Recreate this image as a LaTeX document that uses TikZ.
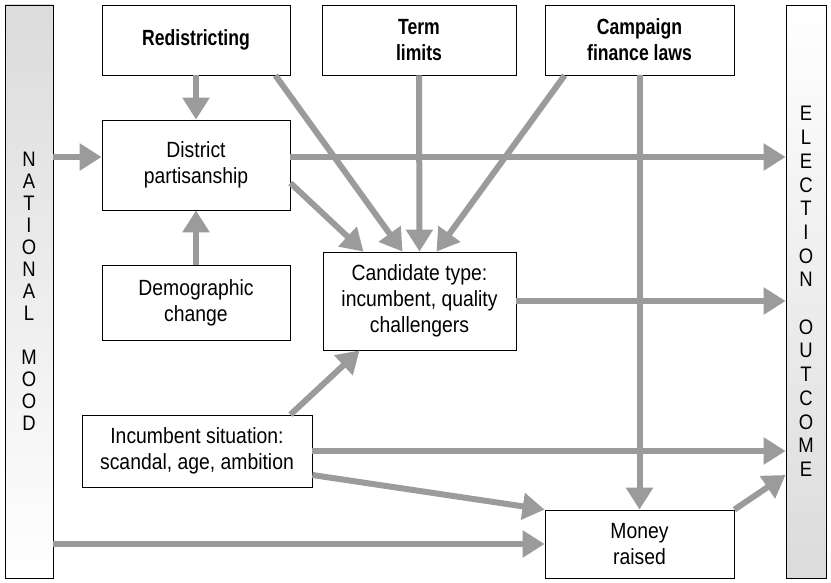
\documentclass[tikz,border=0pt]{standalone}
\usepackage{fontspec}
\setmainfont{Liberation Sans}[FakeStretch=0.88]
\newfontfamily\headfont{Liberation Sans}[FakeStretch=0.80]
\usetikzlibrary{arrows.meta}
\definecolor{arrgray}{RGB}{155,155,155}
\begin{document}
\begin{tikzpicture}[
        x=1pt, y=-1pt,
        box/.style={draw, thick, rectangle, align=center, inner sep=0pt, font=\fontsize{22}{26}\selectfont},
        topbox/.style={box, font=\fontsize{22}{26}\selectfont\headfont\bfseries},
        bar/.style={draw, thick, rectangle, minimum width=#1, minimum height=573pt, inner sep=0pt, align=center},
        arr/.style={draw=arrgray, line width=6pt, -{Triangle[length=22pt,width=26pt]}},
    ]
    \useasboundingbox (0,0) rectangle (831,583);
    \node[bar=48pt, top color=gray!28, bottom color=white, font=\fontsize{21}{22}\selectfont](mood) at (29,291.5)
        {N\\A\\T\\I\\O\\N\\A\\L\\~\\M\\O\\O\\D};
    \node[bar=40pt, top color=white, bottom color=gray!28, font=\fontsize{21}{23.7}\selectfont](elec) at (806,291.5)
        {E\\L\\E\\C\\T\\I\\O\\N\\~\\O\\U\\T\\C\\O\\M\\E};
    \node[topbox, minimum width=188pt, minimum height=70pt](redis) at (196,40) {Redistricting};
    \node[topbox, minimum width=194pt, minimum height=70pt](term) at (419,40) {Term\\limits};
    \node[topbox, minimum width=189pt, minimum height=70pt](camp) at (639.5,40) {Campaign\\finance laws};
    \node[box, minimum width=188pt, minimum height=90pt](dist) at (196,165) {District\\partisanship};
    \node[box, minimum width=188pt, minimum height=75pt](demo) at (196,302.5) {Demographic\\change};
    \node[box, minimum width=193pt, minimum height=98pt](cand) at (419.5,301) {Candidate type:\\incumbent, quality\\challengers};
    \node[box, minimum width=230pt, minimum height=72pt](inc) at (197,451) {Incumbent situation:\\scandal, age, ambition};
    \node[box, minimum width=189pt, minimum height=68pt](money) at (639.5,544) {Money\\raised};

    \coordinate (d1) at ([yshift=8pt]dist.west);
    \coordinate (d2) at ([yshift=8pt]dist.east);
    \draw[arr] (mood.east |- d1) -- (d1);
    \draw[arr] (mood.east |- money.west) -- (money.west);
    \draw[arr] (redis.south) -- (dist.north);
    \draw[arr] (demo.north) -- (dist.south);
    \draw[arr] ([xshift=-15pt]redis.south east) -- ([xshift=-17pt]cand.north);
    \draw[arr] (term.south) -- (cand.north);
    \draw[arr] ([xshift=20pt]camp.south west) -- ([xshift=17pt]cand.north);
    \draw[arr] (camp.south) -- (money.north);
    \draw[arr] (d2) -- (d2 -| elec.west);
    \draw[arr] ([yshift=-18pt]dist.east) -- ([xshift=-56pt]cand.north);
    \draw[arr] (cand.east) -- (cand.east -| elec.west);
    \draw[arr] ([xshift=-22pt]inc.north east) -- ([xshift=-60pt]cand.south);
    \draw[arr] (inc.east) -- (inc.east -| elec.west);
    \draw[arr] ([yshift=-24pt]inc.east) -- (money.north west);
    \draw[arr] (money.north east) -- ([yshift=-183.5pt]elec.west);
\end{tikzpicture}
\end{document}
